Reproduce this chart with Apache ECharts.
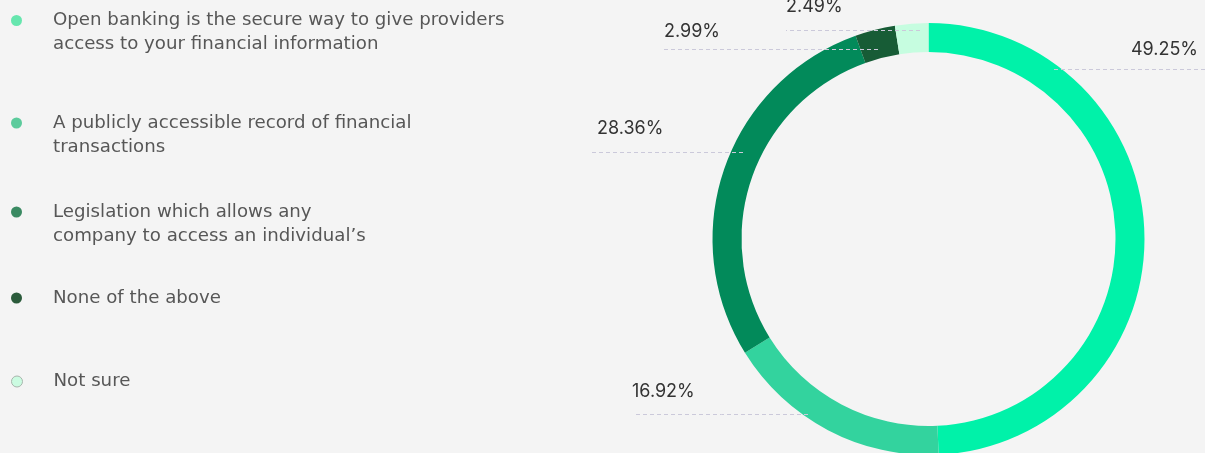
<!DOCTYPE html>
<html>
<head>
<meta charset="utf-8">
<script src="https://cdn.jsdelivr.net/npm/echarts@6/dist/echarts.min.js"></script>
<style>
  html, body { margin: 0; padding: 0; background: #f4f4f4; }
  #main { width: 1205px; height: 453px; }
</style>
</head>
<body>
<div id="main"></div>
<script>
// answers and their share of respondents (%)
const categories = [
  "Open banking is the secure way to give providers access to your financial information",
  "A publicly accessible record of financial transactions",
  "Legislation which allows any company to access an individual’s",
  "None of the above",
  "Not sure"
];
const shares = [49.25, 16.92, 28.36, 2.99, 2.49];
const legendText = [
  "Open banking is the secure way to give providers\naccess to your financial information",
  "A publicly accessible record of financial\ntransactions",
  "Legislation which allows any\ncompany to access an individual’s",
  "None of the above",
  "Not sure"
];

const sliceColors = ["#00f2a9", "#33d39e", "#028a5a", "#175c36", "#c6fde0"];
const legendColors = ["#66e6ae", "#5ccb9c", "#3a8a62", "#2b5b3b", "#cbfbe1"];
const legendTops = [-15.5, 87, 176, 286, 369.5];

// where each percentage label sits, and its dashed leader (same order as shares)
const labelSpots = [
  { x: 1198, y: 50, align: "right", ly: 69.5, x0: 1053, x1: 1205 },
  { x: 632, y: 392, align: "left", ly: 414.5, x0: 635, x1: 808 },
  { x: 597, y: 129, align: "left", ly: 152.5, x0: 592, x1: 743 },
  { x: 664, y: 31.5, align: "left", ly: 49.5, x0: 664, x1: 878 },
  { x: 786, y: 6.5, align: "left", ly: 30.5, x0: 786, x1: 920 }
];

const myChart = echarts.init(document.getElementById("main"));

// one legend per answer so each can sit where the original put it;
// two-line entries get an empty first line so the dot lines up with line one
const legends = categories.map((name, i) => ({
  orient: "vertical",
  left: 11,
  top: legendTops[i],
  padding: 0,
  itemWidth: 11,
  itemHeight: 11,
  selectedMode: false,
  formatter: () => (legendText[i].includes("\n") ? "\n" : "") + legendText[i],
  textStyle: {
    fontFamily: "DejaVu Sans",
    fontSize: 18.2,
    color: "#575757",
    lineHeight: 24,
    padding: [0, 0, 0, 26]
  },
  data: [{
    name: name,
    icon: "circle",
    itemStyle: {
      color: legendColors[i],
      borderColor: i === 4 ? "#a9b5ad" : legendColors[i],
      borderWidth: i === 4 ? 1 : 0
    }
  }]
}));

const ring = {
  type: "pie",
  center: [928.5, 239],
  radius: [187, 216],
  startAngle: 90,
  clockwise: true,
  avoidLabelOverlap: false,
  emphasis: { disabled: true }
};

const option = {
  backgroundColor: "#f4f4f4",
  animation: false,
  legend: legends,
  series: [
    Object.assign({}, ring, {
      name: "ring",
      z: 2,
      label: { show: false },
      labelLine: { show: false },
      data: categories.map((name, i) => ({
        name: name,
        value: shares[i],
        itemStyle: { color: sliceColors[i] }
      }))
    }),
    // same ring again, see-through, only to carry labels and leaders above the coloured ring
    Object.assign({}, ring, {
      name: "labels",
      z: 5,
      silent: true,
      itemStyle: { color: "rgba(0,0,0,0)" },
      label: {
        show: true,
        position: "outside",
        formatter: (p) => p.value.toFixed(2) + "%",
        fontFamily: "Inter",
        fontSize: 18,
        lineHeight: 18,
        color: "#333"
      },
      labelLine: {
        show: true,
        length: 10,
        length2: 10,
        lineStyle: { color: "#cbc9da", width: 1, type: [4, 3] }
      },
      labelLayout: (params) => {
        const s = labelSpots[params.dataIndex];
        return {
          x: s.x,
          y: s.y,
          align: s.align,
          verticalAlign: "middle",
          labelLinePoints: [[s.x1, s.ly], [(s.x0 + s.x1) / 2, s.ly], [s.x0, s.ly]]
        };
      },
      data: categories.map((name, i) => ({ name: name, value: shares[i] }))
    })
  ]
};

myChart.setOption(option);
</script>
</body>
</html>
